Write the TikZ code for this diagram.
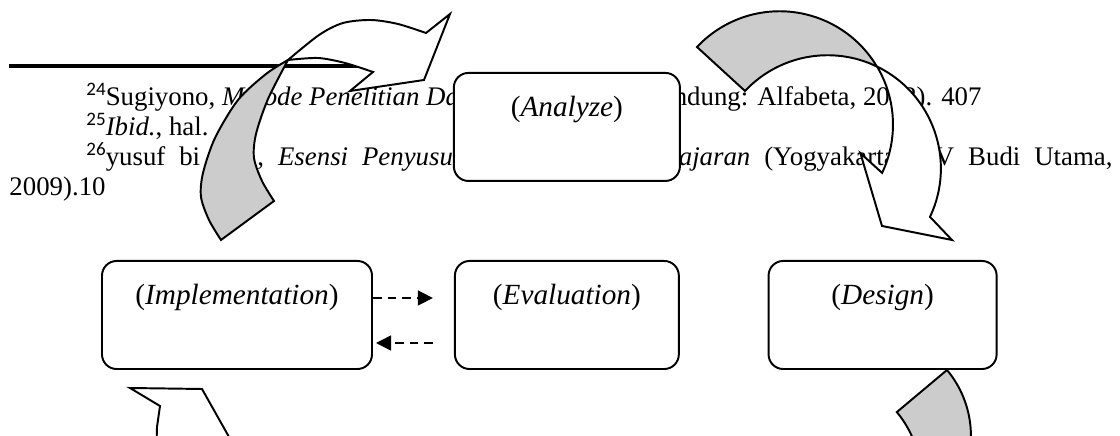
\documentclass[tikz,border=0pt]{standalone}
\usepackage{fontspec}
\setmainfont{Liberation Serif}
\newfontfamily\refnumfont{Carlito}
\usetikzlibrary{positioning}
\usetikzlibrary{arrows.meta}
\newcommand{\fnmark}[1]{\raisebox{4.3pt}{\fontsize{7.8}{9}\selectfont\refnumfont #1}}
\tikzset{
	stage/.style={
		draw, line width=0.8pt,
		rounded corners=6pt,
		fill=white,
		inner sep=0pt,
		text height=18pt,
		text depth=26.3pt,
		font=\fontsize{12}{14}\selectfont},
	fntext/.style={anchor=base west, inner sep=0pt, font=\fontsize{11}{13}\selectfont},
	ribbonfront/.style={draw, fill=white, line width=0.8pt},
	ribbonback/.style={draw, fill=black!20, line width=0.8pt},
	dashflow/.style={line width=1.1pt, dash pattern=on 3.6pt off 2.4pt,
		-{Triangle[length=6.2pt, width=6pt]}},
}
\begin{document}
\begin{tikzpicture}
	[x=0.41pt, y=-0.41pt]

	\useasboundingbox (0,0) rectangle (1120,436);
	\clip (0,0) rectangle (1120,436);

	% footnotes of the page behind the figure
	\draw[line width=1.3pt] (9,66) -- (360,66);
	\node[fntext] (fn24) at (86,106) {\fnmark{24}Sugiyono, \textit{Metode Penelitian Dan}};
	\node[fntext, anchor=base east] (fn24b) at (982,106) {(Bandung: Alfabeta, 2012). 407};
	\node[fntext] (fn25) at (86,136) {\fnmark{25}\textit{Ibid.}, hal.};
	\node[fntext] (fn26) at (86,166) {\fnmark{26}yusuf\hspace{5.7pt}bi};
	\node[fntext] (fn26b) at (257,166) {,\hspace{5.7pt}\textit{Esensi}\hspace{5.7pt}\textit{Penyusunan}};
	\node[fntext, anchor=base east] (fn26c) at (1113,166)
		{\textit{Pembelajaran}\hspace{5.7pt}(Yogyakarta:\hspace{5.7pt}CV\hspace{5.7pt}Budi\hspace{5.7pt}Utama,};
	\node[fntext] (fn26d) at (9,196) {2009).10};

	% curved arrow up to Analyze
	\filldraw[ribbonback] plot[smooth] coordinates {(221,240) (209,220) (201,197) (203,173) (215,138) (238,100) (266,74) (288,60)}
		-- plot[smooth] coordinates {(288,60) (268,99) (256,134) (254,158) (262,181) (274,201)} -- cycle;
	\filldraw[ribbonfront] plot[smooth] coordinates {(288,60) (319,35) (343,23) (371,20) (398,24) (426,33)}
		-- (450,14) -- (424,80) -- (350,91) -- (373,72)
		-- plot[smooth] coordinates {(373,72) (345,63) (318,58) (288,60)} -- cycle;

	% curved arrow from Analyze down to Design
	\filldraw[ribbonback] (697,47) arc[start angle=-136.8, end angle=-30.8, radius=113.3]
		arc[start angle=-64.2, end angle=-136.8, radius=113.3] -- cycle;
	\filldraw[ribbonfront] (877,66.5) arc[start angle=-30.8, end angle=25.3, radius=113.3]
		-- (860.4,153.2) -- (882,226) -- (952,240) -- (930,216.9)
		arc[start angle=25.3, end angle=-64.2, radius=113.3] -- cycle;

	% the two arrows cut by the page edge
	\filldraw[ribbonback] (947,370) arc[start angle=-39.9, end angle=20, radius=102.75]
		-- (920.75,478) arc[start angle=0, end angle=-39.9, radius=102.75] -- cycle;
	\filldraw[ribbonfront] (160,406) -- (130,388) -- (202,389) -- (242,460) -- (156,460) -- (157,427) -- cycle;

	% stages
	\node[stage, anchor=north, minimum width=110.7pt] (impl) at (237,260) {(\textit{Implementation})};
	\node[stage, minimum width=91.8pt, right=33.2pt of impl] (eval) {(\textit{Evaluation})};
	\node[stage, minimum width=93.5pt, right=36pt of eval] (design) {(\textit{Design})};
	\node[stage, minimum width=92.7pt, above=32pt of eval] (analyze) {(\textit{Analyze})};

	\draw[dashflow, shorten >=8.6pt] (impl.east |- 0,298) -- (eval.west |- 0,298);
	\draw[dashflow, shorten <=8.6pt, shorten >=1.2pt] (eval.west |- 0,343) -- (impl.east |- 0,343);
\end{tikzpicture}
\end{document}
